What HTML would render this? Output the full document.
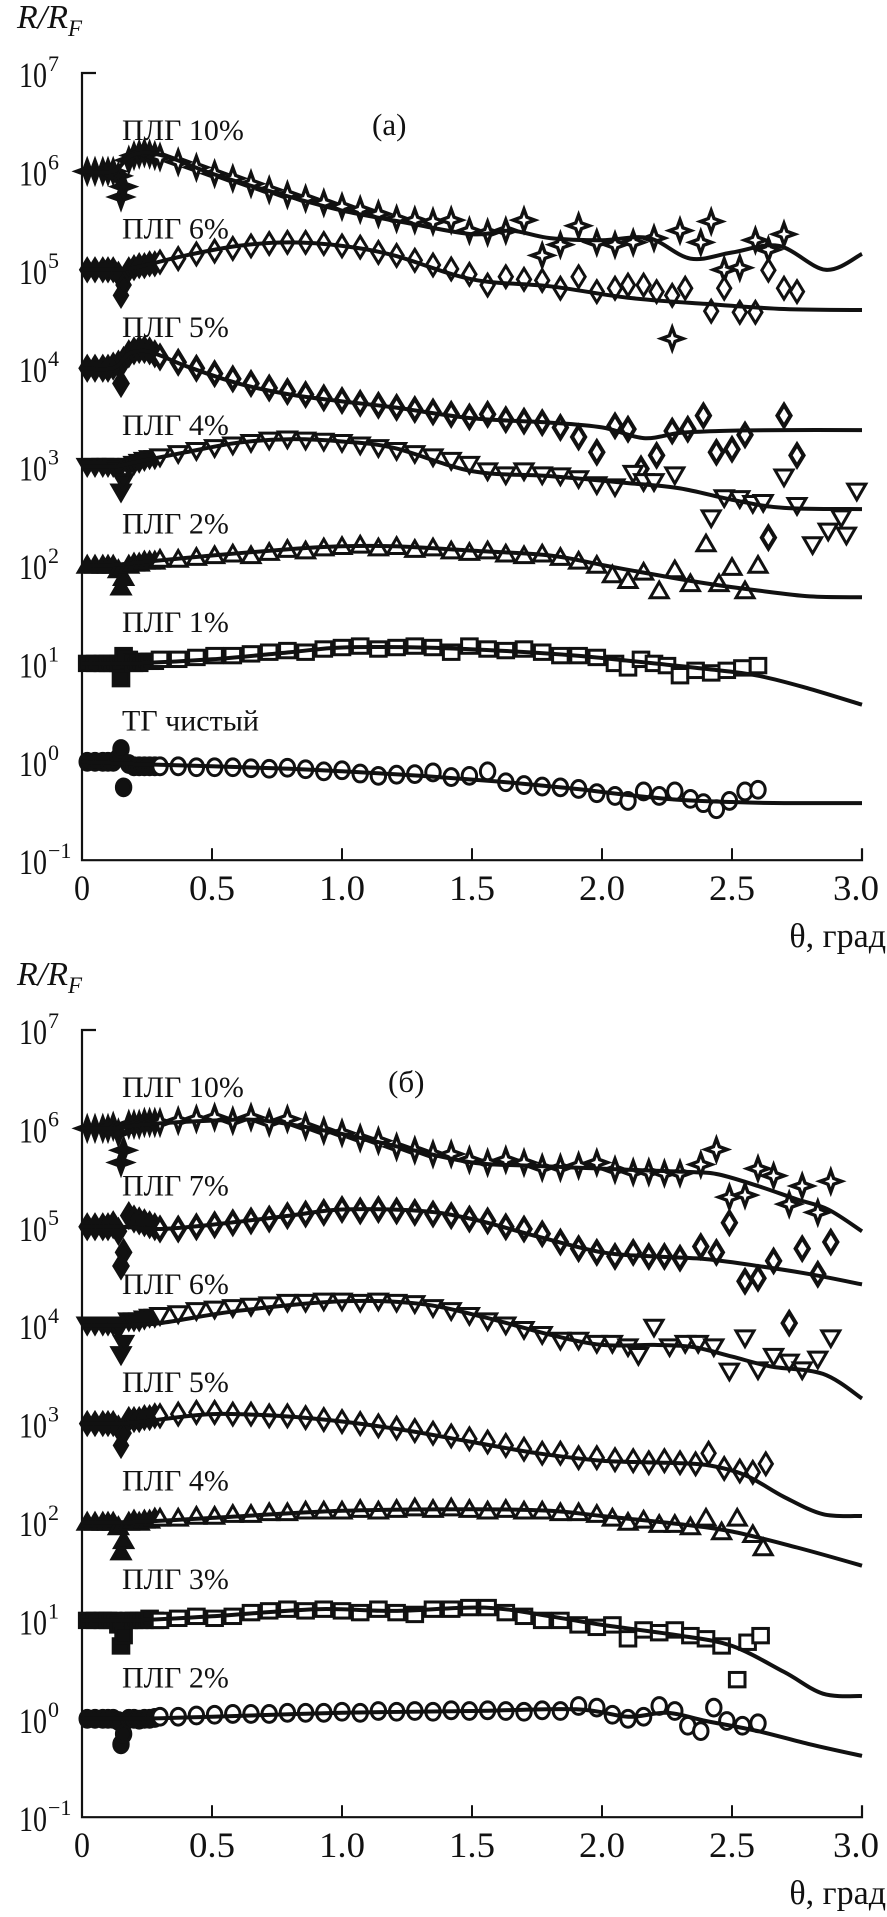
<!DOCTYPE html>
<html><head><meta charset="utf-8">
<style>
html,body{margin:0;padding:0;background:#fff;}
svg{display:block;}
text{font-family:"Liberation Serif","DejaVu Serif",serif;fill:#111;}
</style></head>
<body>
<svg id="chart" width="887" height="1917" viewBox="0 0 887 1917" xmlns="http://www.w3.org/2000/svg"></svg>
<script>
// ---------- shared theta arrays ----------
const earlyT = [0.02,0.05,0.08,0.10,0.12,0.14,0.15,0.16,0.18,0.20,0.22,0.24,0.26,0.28];
const mainT = [0.30,0.37,0.44,0.51,0.58,0.65,0.72,0.79,0.86,0.93,1.00,1.07,1.14,1.21,1.28,1.35,1.42,1.49,1.56,1.63,1.70,1.77,1.84,1.91,1.98];
const xTicks = [0,0.5,1.0,1.5,2.0,2.5,3.0];
const xTickLabels = ["0","0.5","1.0","1.5","2.0","2.5","3.0"];
const yTickExp = [7,6,5,4,3,2,1,0,-1];
const yTickLabels = ["7","6","5","4","3","2","1","0","\u22121"];

// ---------- panel (a) ----------
const a1Label = "ПЛГ 10%";
const a1CurveT = [0,0.12,0.18,0.25,0.35,0.5,0.75,1.0,1.25,1.5,1.65,1.8,2.0,2.18,2.34,2.5,2.68,2.86,3.0];
const a1CurveV = [1e6,1e6,1.4e6,1.55e6,1.35e6,9.5e5,6e5,4e5,3e5,2.3e5,2.5e5,2.1e5,2e5,2.1e5,1.3e5,1.5e5,1.75e5,1e5,1.45e5];
const a1EarlyV = [1e6,1e6,1e6,1e6,1e6,9e5,5.5e5,7e5,1.3e6,1.45e6,1.5e6,1.55e6,1.5e6,1.45e6];
const a1MainV = [1.4e6,1.25e6,1.1e6,9.5e5,8.5e5,7.5e5,6.5e5,5.8e5,5.3e5,4.8e5,4.4e5,4.1e5,3.7e5,3.3e5,3.2e5,3.1e5,3.2e5,2.5e5,2.4e5,2.5e5,3.2e5,1.4e5,1.8e5,2.8e5,1.9e5];
const a1OutT = [2.05,2.12,2.2,2.27,2.3,2.38,2.42,2.47,2.53,2.59,2.64,2.7];
const a1OutV = [1.8e5,1.9e5,2.1e5,2e4,2.5e5,1.9e5,3.1e5,1e5,1.05e5,2e5,1.6e5,2.3e5];

const a2Label = "ПЛГ 6%";
const a2CurveT = [0,0.12,0.2,0.4,0.6,0.8,1.0,1.2,1.5,1.8,2.1,2.4,2.7,3.0];
const a2CurveV = [1e5,1e5,1.05e5,1.4e5,1.75e5,1.9e5,1.75e5,1.4e5,8e4,6.8e4,5.2e4,4.5e4,4e4,3.9e4];
const a2EarlyV = [1e5,1e5,1e5,1e5,1e5,9e4,5.5e4,7e4,1e5,1.05e5,1.1e5,1.1e5,1.15e5,1.15e5];
const a2MainV = [1.2e5,1.3e5,1.45e5,1.55e5,1.65e5,1.75e5,1.85e5,1.9e5,1.9e5,1.85e5,1.75e5,1.7e5,1.5e5,1.4e5,1.25e5,1.12e5,1.02e5,9e4,7e4,8.5e4,8e4,7.8e4,6.5e4,8.5e4,6e4];
const a2OutT = [2.05,2.1,2.16,2.21,2.27,2.32,2.42,2.47,2.53,2.59,2.64,2.7,2.75];
const a2OutV = [6.5e4,7e4,7e4,6e4,5.5e4,6.5e4,3.8e4,6.5e4,3.7e4,3.7e4,9.9e4,6.5e4,6e4];

const a3Label = "ПЛГ 5%";
const a3CurveT = [0,0.12,0.18,0.24,0.3,0.4,0.6,0.8,1.0,1.2,1.5,1.8,2.0,2.16,2.3,2.45,2.7,3.0];
const a3CurveV = [1e4,1e4,1.4e4,1.5e4,1.35e4,1.05e4,7e3,5.4e3,4.6e3,4e3,3.1e3,2.8e3,2.5e3,1.95e3,2.2e3,2.3e3,2.35e3,2.35e3];
const a3EarlyV = [1e4,1e4,1e4,1e4,1.05e4,1.1e4,7e3,1.2e4,1.4e4,1.5e4,1.55e4,1.55e4,1.5e4,1.4e4];
const a3MainV = [1.3e4,1.15e4,1e4,8.8e3,7.8e3,7e3,6.3e3,5.8e3,5.4e3,5e3,4.7e3,4.4e3,4.2e3,4e3,3.8e3,3.6e3,3.4e3,3.2e3,3.4e3,3e3,2.9e3,2.8e3,2.5e3,2e3,1.4e3];
const a3OutT = [2.05,2.1,2.15,2.21,2.27,2.33,2.39,2.44,2.5,2.55,2.64,2.7,2.75];
const a3OutV = [2.6e3,2.4e3,9.5e2,1.3e3,2.3e3,2.4e3,3.3e3,1.4e3,1.5e3,2.1e3,1.9e2,3.3e3,1.3e3];

const a4Label = "ПЛГ 4%";
const a4CurveT = [0,0.12,0.2,0.4,0.6,0.8,1.0,1.2,1.5,1.8,2.1,2.3,2.5,2.7,3.0];
const a4CurveV = [1e3,1e3,1.1e3,1.4e3,1.75e3,1.9e3,1.8e3,1.55e3,9e2,8e2,6.8e2,6e2,4.6e2,3.8e2,3.7e2];
const a4EarlyV = [1e3,1e3,1e3,1e3,1e3,9e2,5.5e2,7e2,1e3,1.05e3,1.1e3,1.15e3,1.2e3,1.2e3];
const a4MainV = [1.25e3,1.35e3,1.45e3,1.55e3,1.65e3,1.75e3,1.85e3,1.9e3,1.85e3,1.8e3,1.75e3,1.65e3,1.55e3,1.45e3,1.35e3,1.25e3,1.15e3,1.05e3,9e2,8.2e2,9e2,8.2e2,8e2,7.5e2,6.5e2];
const a4OutT = [2.05,2.12,2.16,2.2,2.28,2.42,2.47,2.53,2.58,2.62,2.7,2.75,2.81,2.87,2.92,2.94,2.98];
const a4OutV = [6.2e2,8.5e2,7e2,7e2,8.2e2,3e2,4.8e2,4.7e2,4.2e2,4.3e2,7.8e2,4e2,1.6e2,2.2e2,3e2,2e2,5.6e2];

const a5Label = "ПЛГ 2%";
const a5CurveT = [0,0.12,0.2,0.5,0.8,1.0,1.2,1.5,1.8,2.0,2.2,2.4,2.6,2.8,3.0];
const a5CurveV = [100,100,105,125,145,155,155,140,125,100,80,65,55,48,47];
const a5EarlyV = [100,100,100,100,100,90,60,75,100,105,105,110,110,110];
const a5MainV = [115,115,120,125,130,125,135,145,140,150,155,160,150,155,145,150,140,135,140,130,125,130,120,110,100];
const a5OutT = [2.04,2.1,2.16,2.22,2.28,2.34,2.4,2.45,2.5,2.55,2.6];
const a5OutV = [80,70,85,55,90,65,165,65,95,55,100];

const a6Label = "ПЛГ 1%";
const a6CurveT = [0,0.2,0.5,0.8,1.0,1.3,1.6,1.9,2.2,2.4,2.6,2.8,3.0];
const a6CurveV = [10,10,11,13,14.5,14.5,13.5,12,10,8.8,7.5,5.5,3.8];
const a6EarlyV = [10,10,10,10,10,10,7,12,11,10,10,10.5,10.5,10.5];
const a6MainV = [11,11,11.5,12,12,12.5,13,13.5,13,14,14.5,15,14,14.5,15,14.5,13,15,14,13.5,14,13,12,12,11.5];
const a6OutT = [2.05,2.1,2.15,2.2,2.25,2.3,2.36,2.42,2.48,2.54,2.6];
const a6OutV = [10,9,11,10,9.5,7.5,8.5,8,8.5,9,9.5];

const a7Label = "ТГ чистый";
const a7CurveT = [0,0.2,0.5,0.8,1.0,1.3,1.6,1.9,2.1,2.3,2.5,2.7,3.0];
const a7CurveV = [1,0.95,0.9,0.85,0.8,0.72,0.63,0.53,0.46,0.41,0.39,0.38,0.38];
const a7EarlyV = [1,1,1,1,1,1.1,1.35,0.55,0.95,0.9,0.9,0.9,0.9,0.9];
const a7MainV = [0.9,0.9,0.88,0.88,0.88,0.86,0.85,0.87,0.84,0.8,0.82,0.76,0.72,0.74,0.75,0.78,0.7,0.72,0.8,0.62,0.58,0.56,0.55,0.53,0.48];
const a7OutT = [2.05,2.1,2.16,2.22,2.28,2.34,2.39,2.44,2.49,2.55,2.6];
const a7OutV = [0.45,0.4,0.5,0.45,0.5,0.42,0.38,0.33,0.4,0.5,0.52];

// ---------- panel (b) ----------
const b1Label = "ПЛГ 10%";
const b1CurveT = [0,0.12,0.25,0.5,0.7,1.0,1.25,1.5,1.7,1.9,2.1,2.35,2.45,2.6,2.75,2.87,3.0];
const b1CurveV = [1e6,1e6,1.1e6,1.2e6,1.2e6,8.8e5,6.2e5,4.5e5,4.2e5,4e5,3.8e5,3.6e5,3.4e5,2.6e5,1.9e5,1.5e5,9e4];
const b1EarlyV = [1e6,1e6,1e6,1e6,1.05e6,9e5,4.5e5,6e5,1.1e6,1.1e6,1.1e6,1.15e6,1.15e6,1.15e6];
const b1MainV = [1.15e6,1.2e6,1.25e6,1.3e6,1.2e6,1.3e6,1.15e6,1.25e6,1.05e6,9.5e5,9e5,8e5,7.5e5,6.5e5,6e5,5.5e5,5.5e5,4.8e5,4.5e5,4.8e5,4.5e5,4e5,4e5,4.2e5,4.5e5];
const b1OutT = [2.05,2.12,2.18,2.24,2.3,2.38,2.44,2.49,2.55,2.6,2.66,2.72,2.77,2.83,2.88];
const b1OutV = [3.8e5,3.6e5,3.6e5,3.5e5,3.5e5,4.3e5,6.1e5,2e5,2.1e5,3.9e5,3.3e5,1.7e5,2.6e5,1.4e5,2.9e5];

const b2Label = "ПЛГ 7%";
const b2CurveT = [0,0.15,0.3,0.5,0.8,1.0,1.3,1.5,1.75,2.0,2.2,2.4,2.6,2.8,3.0];
const b2CurveV = [1e5,1e5,9.5e4,1.05e5,1.3e5,1.5e5,1.45e5,1.2e5,8e4,5.5e4,5e4,4.7e4,4e4,3.3e4,2.6e4];
const b2EarlyV = [1e5,1e5,1e5,1e5,1.05e5,9e4,4e4,5.5e4,1.3e5,1.2e5,1.15e5,1.1e5,1.05e5,1e5];
const b2MainV = [9.5e4,9.5e4,1e5,1.05e5,1.1e5,1.15e5,1.2e5,1.3e5,1.35e5,1.4e5,1.5e5,1.45e5,1.5e5,1.45e5,1.4e5,1.35e5,1.3e5,1.2e5,1.15e5,1e5,9.5e4,8.5e4,7e4,6e4,5.5e4];
const b2OutT = [2.05,2.12,2.18,2.24,2.3,2.38,2.44,2.49,2.55,2.6,2.66,2.72,2.77,2.83,2.88];
const b2OutV = [5e4,5.5e4,5e4,5e4,4.8e4,6.3e4,5.5e4,1.1e5,2.8e4,3e4,4.5e4,1.05e4,6e4,3.3e4,7e4];

const b3Label = "ПЛГ 6%";
const b3CurveT = [0,0.15,0.3,0.6,1.0,1.3,1.55,1.8,2.0,2.2,2.35,2.5,2.65,2.85,3.0];
const b3CurveV = [1e4,1e4,1.05e4,1.4e4,1.75e4,1.65e4,1.2e4,8e3,6.3e3,6.3e3,6e3,4.8e3,3.8e3,3.2e3,1.8e3];
const b3EarlyV = [1e4,1e4,1e4,1e4,1e4,9e3,5e3,6.5e3,1.1e4,1.1e4,1.1e4,1.15e4,1.2e4,1.2e4];
const b3MainV = [1.25e4,1.3e4,1.4e4,1.45e4,1.5e4,1.55e4,1.6e4,1.7e4,1.7e4,1.75e4,1.75e4,1.7e4,1.75e4,1.7e4,1.65e4,1.5e4,1.4e4,1.25e4,1.1e4,1e4,9e3,8e3,7e3,7e3,6.5e3];
const b3OutT = [2.04,2.1,2.14,2.2,2.26,2.32,2.37,2.43,2.49,2.55,2.6,2.66,2.72,2.77,2.83,2.88];
const b3OutV = [6.5e3,6e3,4.9e3,9.5e3,6e3,6.5e3,6.5e3,6e3,3.4e3,7.4e3,3.5e3,4.8e3,4.2e3,3.5e3,4.5e3,7.4e3];

const b4Label = "ПЛГ 5%";
const b4CurveT = [0,0.15,0.3,0.5,0.75,1.0,1.25,1.5,1.75,2.0,2.25,2.4,2.55,2.7,2.85,3.0];
const b4CurveV = [1e3,1e3,1.1e3,1.25e3,1.2e3,1.05e3,8.5e2,6.5e2,5e2,4.2e2,4e2,3.8e2,3e2,1.8e2,1.2e2,1.15e2];
const b4EarlyV = [1e3,1e3,1e3,1e3,1e3,9e2,6e2,8e2,1.1e3,1.1e3,1.1e3,1.15e3,1.15e3,1.2e3];
const b4MainV = [1.2e3,1.25e3,1.3e3,1.3e3,1.25e3,1.25e3,1.2e3,1.2e3,1.15e3,1.1e3,1.05e3,1e3,9.5e2,9e2,8.5e2,8e2,7.5e2,7e2,6.5e2,6e2,5.5e2,5e2,5e2,4.5e2,4.5e2];
const b4OutT = [2.05,2.12,2.18,2.24,2.3,2.36,2.41,2.47,2.53,2.58,2.63];
const b4OutV = [4.3e2,4.2e2,4e2,4.2e2,4e2,3.9e2,5e2,3.5e2,3.3e2,3.2e2,3.9e2];

const b5Label = "ПЛГ 4%";
const b5CurveT = [0,0.2,0.5,1.0,1.5,1.8,2.0,2.3,2.5,2.75,3.0];
const b5CurveV = [100,100,110,130,135,130,115,95,80,55,36];
const b5EarlyV = [100,100,100,100,100,90,50,65,100,105,100,105,105,110];
const b5MainV = [110,110,115,115,120,120,125,125,130,130,130,135,130,135,140,135,140,135,130,135,130,130,125,125,120];
const b5OutT = [2.04,2.1,2.16,2.22,2.28,2.34,2.4,2.46,2.52,2.58,2.62];
const b5OutV = [110,100,105,95,95,90,110,80,110,75,55];

const b6Label = "ПЛГ 3%";
const b6CurveT = [0,0.2,0.5,0.9,1.2,1.55,1.8,2.0,2.3,2.5,2.7,2.85,3.0];
const b6CurveV = [10,10,11,13,12.5,13.5,11,9,7,5.5,3,1.8,1.7];
const b6EarlyV = [10,10,10,10,10,9,5.5,7,10,10,10,10,10.5,10];
const b6MainV = [10,10.5,11,10.5,11,12,12.5,13,12.5,13,12.5,12,13,12,11.5,13,13,13.5,13.5,12,11,10,10,9,8.5];
const b6OutT = [2.04,2.1,2.16,2.22,2.28,2.34,2.4,2.46,2.52,2.56,2.61];
const b6OutV = [9,6.5,8,7.5,8,7,6.5,5.5,2.5,6,7];

const b7Label = "ПЛГ 2%";
const b7CurveT = [0,0.2,0.5,1.0,1.5,1.9,2.1,2.25,2.4,2.6,2.8,3.0];
const b7CurveV = [1,1,1.05,1.15,1.2,1.25,1.05,1.15,0.95,0.75,0.55,0.42];
const b7EarlyV = [1,1,1,1,1,0.95,0.55,0.7,1,1,0.98,1,1,1.02];
const b7MainV = [1.05,1.05,1.08,1.1,1.12,1.12,1.12,1.15,1.15,1.15,1.18,1.15,1.2,1.18,1.2,1.18,1.22,1.2,1.22,1.2,1.18,1.22,1.2,1.35,1.3];
const b7OutT = [2.04,2.1,2.16,2.22,2.28,2.33,2.38,2.43,2.48,2.54,2.6];
const b7OutV = [1.1,1.0,1.05,1.35,1.2,0.85,0.75,1.3,0.95,0.85,0.9];

// ---------- layout ----------
const NS = "http://www.w3.org/2000/svg";
const svg = document.getElementById('chart');
const X0 = 82, XPX = 260, DEC = 98.4, MS = 1.2;
function X(t){ return X0 + t*XPX; }
function makeY(top){ return v => top + (7 - Math.log10(v))*DEC; }
function el(tag, attrs, parent){
  const e = document.createElementNS(NS, tag);
  for (const k in attrs) e.setAttribute(k, attrs[k]);
  (parent||svg).appendChild(e);
  return e;
}
function smoothPath(pts){
  let d = `M${pts[0][0].toFixed(1)},${pts[0][1].toFixed(1)}`;
  for (let i=0;i<pts.length-1;i++){
    const p0 = pts[i-1]||pts[i], p1=pts[i], p2=pts[i+1], p3=pts[i+2]||p2;
    const c1x = p1[0]+(p2[0]-p0[0])/6, c1y = p1[1]+(p2[1]-p0[1])/6;
    const c2x = p2[0]-(p3[0]-p1[0])/6, c2y = p2[1]-(p3[1]-p1[1])/6;
    d += ` C${c1x.toFixed(1)},${c1y.toFixed(1)} ${c2x.toFixed(1)},${c2y.toFixed(1)} ${p2[0].toFixed(1)},${p2[1].toFixed(1)}`;
  }
  return d;
}
function marker(g, type, x, y, filled, bold){
  const fill = filled ? '#111' : '#fff';
  const sw = bold ? 4 : 3;
  const s = MS;
  let m;
  if (type==='diamond') m = el('polygon',{points:`${x},${y-9*s} ${x+5.5*s},${y} ${x},${y+9*s} ${x-5.5*s},${y}`},g);
  else if (type==='down') m = el('polygon',{points:`${x-7.5*s},${y-6*s} ${x+7.5*s},${y-6*s} ${x},${y+7*s}`},g);
  else if (type==='up') m = el('polygon',{points:`${x-7.5*s},${y+6*s} ${x+7.5*s},${y+6*s} ${x},${y-7*s}`},g);
  else if (type==='square') m = el('rect',{x:x-6.5*s,y:y-6*s,width:13*s,height:12*s},g);
  else if (type==='circle') m = el('ellipse',{cx:x,cy:y,rx:6*s,ry:7*s},g);
  else {
    const r=9*s, q=2.4*s;
    m = el('polygon',{points:`${x},${y-r} ${x+q},${y-q} ${x+r},${y} ${x+q},${y+q} ${x},${y+r} ${x-q},${y+q} ${x-r},${y} ${x-q},${y-q}`},g);
  }
  m.setAttribute('fill', (type==='star' && !filled) ? '#fff' : fill);
  m.setAttribute('stroke','#111');
  m.setAttribute('stroke-width', type==='star' ? 3.4 : sw);
  
  
}
function drawPanel(p){
  const Y = makeY(p.top);
  const g = el('g',{});
  
  
  const axBottom = Y(0.1);
  const ax = el('path',{d:`M${X0+14},${Y(1e7)} H${X0} V${axBottom} H${X(3)} V${axBottom-12}`,fill:'none',stroke:'#111','stroke-width':2.2},g);
  
  
  xTicks.forEach((t,i)=>{
    if (i>0 && i<xTicks.length-1){
      const tk = el('line',{x1:X(t),x2:X(t),y1:axBottom,y2:axBottom-12,stroke:'#111','stroke-width':2},g);
      
      
    }
    const tl = el('text',{x:X(t)+(i===xTicks.length-1?-6:0),y:axBottom+40,'font-size':36,'text-anchor':'middle','textLength':(xTickLabels[i].length>1?46:16),'lengthAdjust':'spacingAndGlyphs'},g);
    tl.textContent = xTickLabels[i];
    
    
  });
  yTickExp.forEach((e,i)=>{
    const y = Y(Math.pow(10,e));
    const t = el('text',{x:19,y:y+14,'font-size':36,'textLength':28,'lengthAdjust':'spacingAndGlyphs'},g);
    t.textContent = '10';
    
    
    const s = el('text',{x:48,y:y-2,'font-size':22},g);
    s.textContent = yTickLabels[i];
    
    
  });
  const yt = el('text',{x:17,y:p.top-45,'font-size':34,'font-style':'italic'},g);
  yt.innerHTML = 'R/R<tspan font-size="23" dy="8">F</tspan>';
  
  
  const xt = el('text',{x:886,y:axBottom+87,'font-size':34,'text-anchor':'end'},g);
  xt.textContent = 'θ, град';
  
  
  const pl = el('text',{x:p.tagX,y:p.top+62,'font-size':31},g);
  pl.textContent = p.tag;
  
  
  p.series.forEach((s,k)=>{
    const sg = el('g',{},g);
    
    
    const lab = el('text',{x:122,y:p.top+67+k*DEC,'font-size':30},sg);
    lab.textContent = s.label;
    
    
    s.earlyV.forEach((v,i)=>marker(sg,s.type,X(earlyT[i]),Y(v),true,s.bold));
    s.mainV.forEach((v,i)=>marker(sg,s.type,X(mainT[i]),Y(v),false,s.bold));
    s.outT.forEach((t,i)=>marker(sg,s.type,X(t),Y(s.outV[i]),false,s.bold));
    const pts = s.curveT.map((t,i)=>[X(t),Y(s.curveV[i])]);
    const c = el('path',{d:smoothPath(pts),fill:'none',stroke:'#111','stroke-width':4,'stroke-linejoin':'round'},sg);
    
    
  });
}
drawPanel({name:'panel-a', top:73, tag:'(а)', tagX:372, series:[
  {id:'a-plg10',label:a1Label,type:'star',curveT:a1CurveT,curveV:a1CurveV,earlyV:a1EarlyV,mainV:a1MainV,outT:a1OutT,outV:a1OutV},
  {id:'a-plg6',label:a2Label,type:'diamond',curveT:a2CurveT,curveV:a2CurveV,earlyV:a2EarlyV,mainV:a2MainV,outT:a2OutT,outV:a2OutV},
  {id:'a-plg5',label:a3Label,type:'diamond',bold:true,curveT:a3CurveT,curveV:a3CurveV,earlyV:a3EarlyV,mainV:a3MainV,outT:a3OutT,outV:a3OutV},
  {id:'a-plg4',label:a4Label,type:'down',curveT:a4CurveT,curveV:a4CurveV,earlyV:a4EarlyV,mainV:a4MainV,outT:a4OutT,outV:a4OutV},
  {id:'a-plg2',label:a5Label,type:'up',curveT:a5CurveT,curveV:a5CurveV,earlyV:a5EarlyV,mainV:a5MainV,outT:a5OutT,outV:a5OutV},
  {id:'a-plg1',label:a6Label,type:'square',curveT:a6CurveT,curveV:a6CurveV,earlyV:a6EarlyV,mainV:a6MainV,outT:a6OutT,outV:a6OutV},
  {id:'a-tg',label:a7Label,type:'circle',curveT:a7CurveT,curveV:a7CurveV,earlyV:a7EarlyV,mainV:a7MainV,outT:a7OutT,outV:a7OutV}
]});
drawPanel({name:'panel-b', top:1030, tag:'(б)', tagX:388, series:[
  {id:'b-plg10',label:b1Label,type:'star',curveT:b1CurveT,curveV:b1CurveV,earlyV:b1EarlyV,mainV:b1MainV,outT:b1OutT,outV:b1OutV},
  {id:'b-plg7',label:b2Label,type:'diamond',bold:true,curveT:b2CurveT,curveV:b2CurveV,earlyV:b2EarlyV,mainV:b2MainV,outT:b2OutT,outV:b2OutV},
  {id:'b-plg6',label:b3Label,type:'down',curveT:b3CurveT,curveV:b3CurveV,earlyV:b3EarlyV,mainV:b3MainV,outT:b3OutT,outV:b3OutV},
  {id:'b-plg5',label:b4Label,type:'diamond',curveT:b4CurveT,curveV:b4CurveV,earlyV:b4EarlyV,mainV:b4MainV,outT:b4OutT,outV:b4OutV},
  {id:'b-plg4',label:b5Label,type:'up',curveT:b5CurveT,curveV:b5CurveV,earlyV:b5EarlyV,mainV:b5MainV,outT:b5OutT,outV:b5OutV},
  {id:'b-plg3',label:b6Label,type:'square',curveT:b6CurveT,curveV:b6CurveV,earlyV:b6EarlyV,mainV:b6MainV,outT:b6OutT,outV:b6OutV},
  {id:'b-plg2',label:b7Label,type:'circle',curveT:b7CurveT,curveV:b7CurveV,earlyV:b7EarlyV,mainV:b7MainV,outT:b7OutT,outV:b7OutV}
]});
</script>
</body></html>
